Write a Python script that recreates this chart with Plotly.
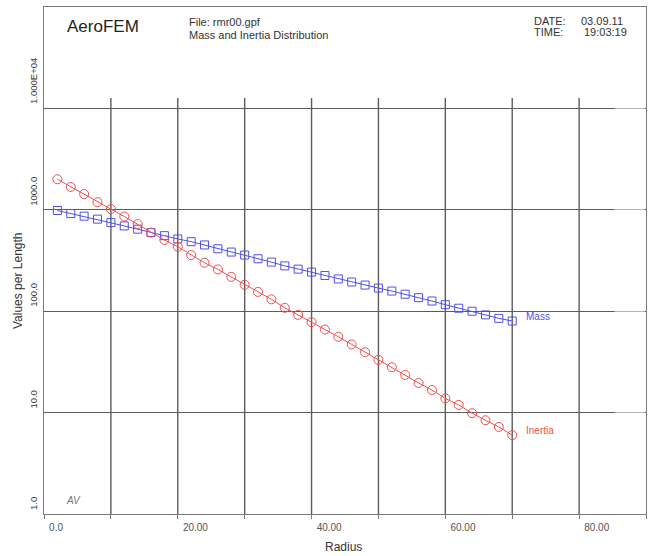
import math
import plotly.graph_objects as go

# Radial stations and distributed properties
radius = [2, 4, 6, 8, 10, 12, 14, 16, 18, 20, 22, 24, 26, 28, 30, 32, 34, 36,
          38, 40, 42, 44, 46, 48, 50, 52, 54, 56, 58, 60, 62, 64, 66, 68, 70]
mass = [984, 918, 866, 809, 748, 693, 644, 596, 556, 516, 485, 450, 413, 383,
        358, 329, 305, 280, 260, 243, 225, 208, 194, 181, 169, 158, 147, 136,
        126, 116, 107, 100, 92, 85, 80]
inertia = [2000, 1680, 1430, 1190, 1016, 859, 722, 596, 504, 432, 358, 300,
           258, 218, 182, 155, 131, 108, 92, 78, 66, 56, 47, 39.4, 33.1, 28.0,
           23.5, 19.6, 16.7, 13.8, 11.9, 9.87, 8.41, 7.22, 6.0]

x_ticks = [0, 10, 20, 30, 40, 50, 60, 70, 80, 90]
x_tick_text = ["0.0", "", "20.00", "", "40.00", "", "60.00", "", "80.00", ""]
y_ticks = [1, 10, 100, 1000, 10000]
y_tick_text = ["1.0", "10.0", "100.0", "1000.0", "1.000E+04"]
grid_x = [10, 20, 30, 40, 50, 60, 70, 80]

FONT = "Liberation Sans, Arial, sans-serif"
BLUE = "#5050e8"
RED = "#ee5050"
GRID = "#5c5c5c"
FRAME = "#7a7a7a"

fig = go.Figure()

fig.add_trace(go.Scatter(
    x=radius, y=mass, mode="lines+markers", name="Mass",
    line=dict(color=BLUE, width=1),
    marker=dict(symbol="square-open", size=8, color=BLUE, line=dict(width=1)),
))
fig.add_trace(go.Scatter(
    x=radius, y=inertia, mode="lines+markers", name="Inertia",
    line=dict(color=RED, width=1),
    marker=dict(symbol="circle-open", size=9, color=RED, line=dict(width=1)),
))

shapes = []
# vertical grid lines stop a little above the top decade line
for gx in grid_x:
    shapes.append(dict(type="line", xref="x", yref="paper", x0=gx, x1=gx,
                       y0=0, y1=0.8205, line=dict(color=GRID, width=1.4),
                       layer="below"))
# lighter tail of the horizontal grid near the right edge
shapes.append(dict(type="rect", xref="x", yref="paper", x0=85.3, x1=89.85,
                   y0=0.01, y1=0.83, fillcolor="rgba(255,255,255,0.55)",
                   line=dict(width=0), layer="above"))

annotations = []


def note(text, x, y, size=11, color="#333333", xanchor="left",
         yanchor="middle", **kw):
    annotations.append(dict(text=text, x=x, y=y, xref="paper", yref="paper",
                            showarrow=False, xanchor=xanchor, yanchor=yanchor,
                            font=dict(family=FONT, size=size, color=color),
                            **kw))


# header block
note("AeroFEM", 0.0349, 0.9606, size=17, color="#222222")
note("File: rmr00.gpf", 0.2375, 0.9704, size=11)
note("Mass and Inertia Distribution", 0.2375, 0.9448, size=11)
note("DATE:", 0.810, 0.9724, size=11)
note("03.09.11", 0.8887, 0.9724, size=11)
note("TIME:", 0.810, 0.9507, size=11)
note("19:03:19", 0.893, 0.9507, size=11)
note("<i>AV</i>", 0.033, 0.0266, size=10, color="#777777")

# axis titles
note("Values per Length", -0.0432, 0.4615, size=12, color="#333333",
     xanchor="center", textangle=-90)
note("Radius", 0.498, -0.065, size=12, color="#333333", xanchor="center")

# decade labels, rotated and sitting just above each grid line
for val, txt in zip(y_ticks, y_tick_text):
    annotations.append(dict(
        text=txt, x=0, y=math.log10(val), xref="paper", yref="y",
        showarrow=False, xanchor="right", yanchor="bottom", xshift=-3,
        yshift=2, textangle=-90,
        font=dict(family=FONT, size=9.5, color="#333333")))

# series labels at the last station
for label, values, color in (("Mass", mass, BLUE), ("Inertia", inertia, RED)):
    annotations.append(dict(
        text=label, x=radius[-1], y=math.log10(values[-1]), xref="x", yref="y",
        showarrow=False, xanchor="left", yanchor="middle", xshift=12, yshift=5,
        font=dict(family=FONT, size=10, color=color)))

fig.update_layout(
    width=652, height=556,
    margin=dict(l=44, r=6, t=7, b=42),
    paper_bgcolor="white", plot_bgcolor="white",
    showlegend=False,
    font=dict(family=FONT, color="#444444"),
    shapes=shapes,
    annotations=annotations,
    xaxis=dict(
        range=[0, 90], tickvals=x_ticks, ticktext=x_tick_text,
        ticks="outside", ticklen=4, tickcolor=FRAME, tickwidth=1,
        ticklabelposition="outside right", ticklabelshift=4,
        ticklabelstandoff=4,
        tickfont=dict(size=10, color="#555555"),
        showgrid=False, zeroline=False,
        showline=True, linecolor=FRAME, linewidth=1.2, mirror=True,
    ),
    yaxis=dict(
        type="log", range=[0, 5], tickvals=y_ticks,
        showticklabels=False,
        ticks="", showgrid=True, gridcolor=GRID, gridwidth=1.4,
        zeroline=False,
        showline=True, linecolor=FRAME, linewidth=1.2, mirror=True,
    ),
)

fig.write_html("out.html")
